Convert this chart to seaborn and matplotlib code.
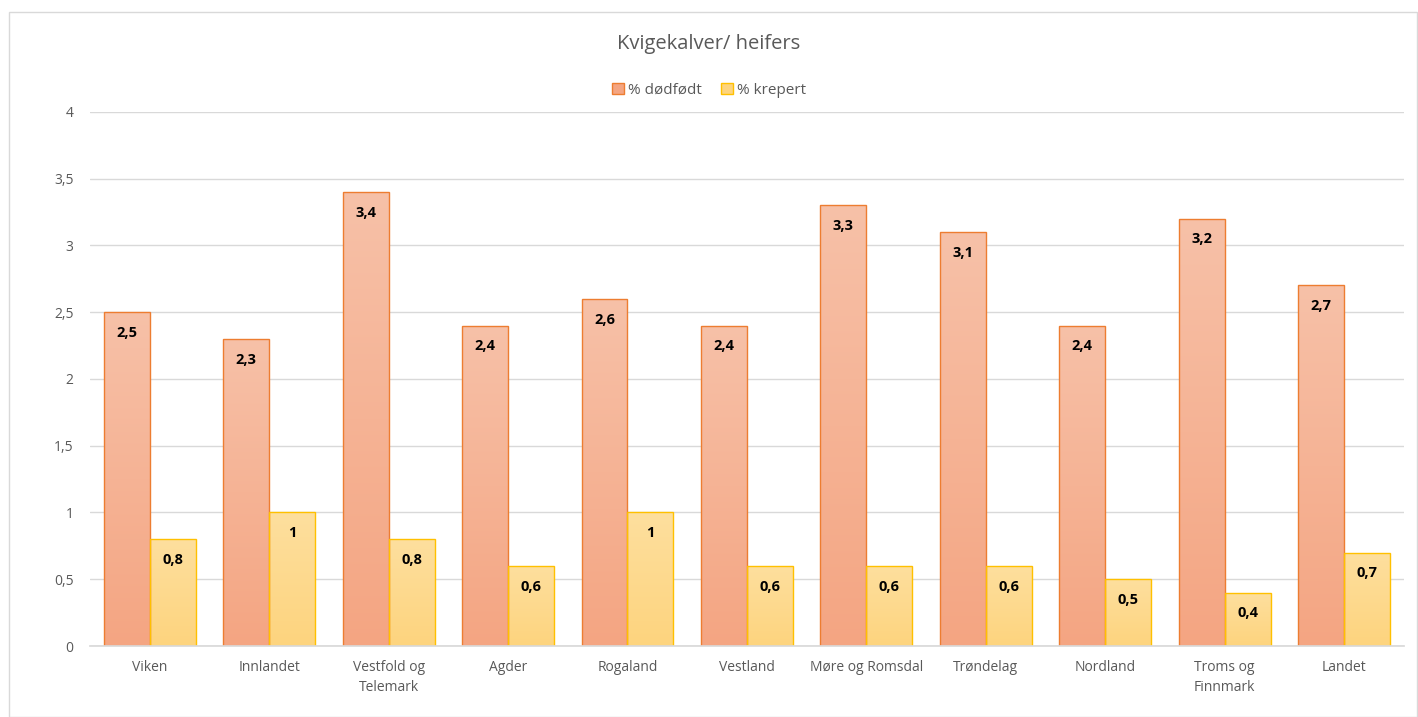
import numpy as np
import pandas as pd
import matplotlib
matplotlib.use("Agg")
import matplotlib.pyplot as plt
import seaborn as sns
from matplotlib.colors import LinearSegmentedColormap
from matplotlib.patches import Rectangle, Patch

regions = ["Viken", "Innlandet", "Vestfold og\nTelemark", "Agder", "Rogaland", "Vestland",
           "Møre og Romsdal", "Trøndelag", "Nordland", "Troms og\nFinnmark", "Landet"]
dodfodt = [2.5, 2.3, 3.4, 2.4, 2.6, 2.4, 3.3, 3.1, 2.4, 3.2, 2.7]
krepert = [0.8, 1.0, 0.8, 0.6, 1.0, 0.6, 0.6, 0.6, 0.5, 0.4, 0.7]
series = ["% dødfødt", "% krepert"]

df = pd.DataFrame({
    "region": regions * 2,
    "series": [series[0]] * len(regions) + [series[1]] * len(regions),
    "value": dodfodt + krepert,
})

sns.set_theme(style="white")
plt.rcParams["font.family"] = ["Open Sans", "DejaVu Sans"]

fill_top = ["#F7C1A8", "#FEDF9E"]
fill_bot = ["#F4A582", "#FDD47E"]
edges = ["#ED7D31", "#FFC000"]

fig = plt.figure(figsize=(14.18, 7.17), dpi=100)
ax = fig.add_axes([0.0635, 0.099, 0.9265, 0.745])

sns.barplot(data=df, x="region", y="value", hue="series", palette=fill_bot,
            width=0.77, ax=ax, legend=False, errorbar=None)

def fmt(v):
    s = f"{v:g}"
    return s.replace(".", ",")

# vertical gradient fill for each bar, lighter at the top
for i, cont in enumerate(ax.containers):
    cmap = LinearSegmentedColormap.from_list("g", [fill_bot[i], fill_top[i]])
    grad = np.linspace(0, 1, 256).reshape(-1, 1)
    for bar in cont:
        bar.set_edgecolor(edges[i])
        bar.set_linewidth(1.0)
        x0, w, h = bar.get_x(), bar.get_width(), bar.get_height()
        im = ax.imshow(grad, extent=[x0, x0 + w, 0, h], origin="lower",
                       aspect="auto", cmap=cmap, zorder=bar.get_zorder())
        im.set_clip_path(bar)
        bar.set_facecolor("none")
        bar.set_zorder(bar.get_zorder() + 0.1)
    vals = [b.get_height() for b in cont]
    ax.bar_label(cont, labels=[fmt(v) for v in vals], label_type="edge", padding=-20,
                 fontsize=10.5, fontweight="bold", color="black")

ax.set_xlim(-0.5, len(regions) - 0.5)
ax.set_ylim(0, 4)
ax.set_yticks(np.arange(0, 4.01, 0.5))
ax.set_yticklabels([fmt(v) for v in np.arange(0, 4.01, 0.5)])
ax.yaxis.grid(True, color="#D9D9D9", linewidth=1)
ax.set_axisbelow(True)
for s in ["top", "right", "left"]:
    ax.spines[s].set_visible(False)
ax.spines["bottom"].set_color("#D9D9D9")
ax.tick_params(axis="y", length=0, pad=12, labelsize=10, labelcolor="#595959")
ax.tick_params(axis="x", length=0, pad=10, labelsize=10, labelcolor="#595959")
for lbl in ax.get_xticklabels():
    lbl.set_linespacing(1.45)
ax.set_xlabel("")
ax.set_ylabel("")

fig.text(0.5, 0.938, "Kvigekalver/ heifers", ha="center", va="center",
         fontsize=14.5, color="#595959")
handles = [Patch(facecolor=fill_bot[i], edgecolor=edges[i], label=series[i]) for i in range(2)]
fig.legend(handles=handles, loc="center", bbox_to_anchor=(0.5, 0.874), ncol=2,
           frameon=False, fontsize=11, labelcolor="#595959", handlelength=0.8,
           handleheight=0.8, handletextpad=0.3, columnspacing=1.2)

fig.patches.append(Rectangle((0.006, 0.0), 0.993, 0.983, transform=fig.transFigure,
                             fill=False, edgecolor="#D9D9D9", linewidth=1))

fig.savefig("out.png", dpi=100)
